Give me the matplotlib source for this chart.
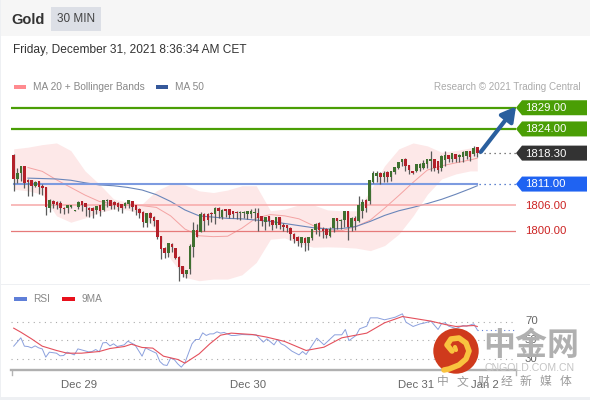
import matplotlib
matplotlib.use('Agg')
import matplotlib.pyplot as plt
from matplotlib.patches import Rectangle, Polygon, Circle
from matplotlib.transforms import blended_transform_factory

plt.rcParams['font.family'] = ['Liberation Sans', 'Noto Sans CJK SC', 'DejaVu Sans']

# 30 minute candles
opens = [1817.7, 1812.2, 1813.6, 1815.1, 1811.8, 1811.8, 1810.6, 1811.6, 1810.4, 1810.2,
         1805.3, 1806.9, 1806.7, 1806.3, 1805.3, 1805.3, 1805.5, 1804.7, 1805.5, 1806.8,
         1806.3, 1805.3, 1805.3, 1804.9, 1805.9, 1804.9, 1806.9, 1807.1, 1806.7, 1806.4,
         1806.1, 1805.9, 1806.4, 1806.8, 1805.9, 1805.1, 1804.3, 1801.9, 1804.1, 1803.1,
         1802.4, 1798.7, 1795.9, 1794.7, 1796.7, 1795.9, 1793.7, 1791.5, 1789.9,
         1791.0, 1796.1, 1800.0, 1799.6, 1803.9, 1803.9, 1804.1, 1803.9, 1805.3, 1803.3,
         1804.9, 1804.9, 1804.5, 1804.4, 1804.2, 1804.1, 1803.9, 1803.9, 1804.2, 1804.1,
         1803.3, 1802.0, 1803.3, 1802.4, 1801.4, 1803.0, 1801.3, 1801.2, 1800.6, 1799.1,
         1798.4, 1797.2, 1798.2, 1797.0, 1798.2, 1800.2, 1801.6, 1800.2, 1800.2, 1798.8,
         1800.6, 1802.8, 1802.2, 1802.5, 1804.6, 1800.8, 1802.8, 1802.2, 1804.7, 1807.1,
         1806.9, 1811.6, 1813.0, 1813.4, 1812.7, 1813.7, 1812.7, 1813.8, 1814.8, 1816.1,
         1816.9, 1815.3, 1814.0, 1814.1, 1814.9, 1814.9, 1815.7, 1816.5, 1816.9, 1816.3,
         1814.8, 1816.7, 1817.7, 1816.9, 1817.9, 1817.3, 1817.4, 1817.7, 1818.6, 1818.1,
         1819.7]
highs = [1818.2, 1814.9, 1815.3, 1815.3, 1812.2, 1811.9, 1811.8, 1811.8, 1811.0, 1810.2,
         1807.5, 1807.2, 1807.1, 1806.9, 1805.5, 1806.1, 1806.1, 1804.8, 1806.9, 1807.1,
         1806.4, 1805.7, 1805.7, 1805.9, 1806.1, 1807.2, 1807.5, 1807.2, 1806.9, 1806.7,
         1806.4, 1806.7, 1807.2, 1807.1, 1805.9, 1805.3, 1804.7, 1804.1, 1804.3, 1803.5,
         1802.5, 1798.8, 1796.1, 1797.0, 1797.0, 1795.9, 1794.1, 1791.7, 1790.7,
         1796.9, 1802.0, 1801.6, 1804.3, 1804.1, 1804.1, 1804.3, 1805.5, 1805.5, 1805.1,
         1805.1, 1804.9, 1804.7, 1804.7, 1804.7, 1804.7, 1804.7, 1805.1, 1805.3, 1805.3,
         1803.5, 1803.3, 1803.5, 1802.5, 1803.3, 1803.1, 1801.7, 1801.3, 1800.8, 1799.4,
         1798.8, 1798.6, 1798.4, 1798.6, 1800.4, 1801.7, 1802.0, 1800.8, 1800.6, 1800.8,
         1803.0, 1803.0, 1802.8, 1804.7, 1804.7, 1803.3, 1803.5, 1808.3, 1807.5, 1807.5,
         1811.9, 1814.0, 1814.1, 1813.8, 1814.1, 1814.1, 1814.1, 1814.9, 1816.3, 1816.9,
         1817.1, 1815.6, 1814.1, 1815.7, 1815.9, 1816.7, 1816.9, 1818.9, 1816.9, 1816.5,
         1817.9, 1818.7, 1817.9, 1818.2, 1818.2, 1818.2, 1818.7, 1818.9, 1818.9, 1819.9,
         1819.8]
lows = [1809.4, 1811.2, 1811.8, 1810.1, 1808.3, 1808.1, 1810.2, 1808.6, 1808.5, 1803.7,
        1804.3, 1805.3, 1805.1, 1804.1, 1803.9, 1804.1, 1805.3, 1804.6, 1805.1, 1804.7,
        1803.5, 1803.3, 1802.9, 1803.9, 1803.5, 1804.7, 1805.7, 1805.1, 1805.1, 1804.7,
        1804.1, 1805.3, 1805.3, 1804.7, 1803.8, 1803.0, 1800.9, 1800.8, 1801.7, 1801.2,
        1798.0, 1793.3, 1793.6, 1793.9, 1794.9, 1793.3, 1788.2, 1789.0, 1788.8,
        1789.8, 1793.9, 1798.6, 1799.6, 1800.0, 1801.4, 1802.0, 1801.6, 1803.0, 1802.8,
        1803.3, 1803.0, 1803.0, 1802.8, 1802.5, 1803.0, 1802.8, 1803.0, 1802.4, 1800.0,
        1801.2, 1800.2, 1801.2, 1800.2, 1800.6, 1800.4, 1800.0, 1799.6, 1797.8, 1797.0,
        1796.5, 1796.1, 1795.3, 1795.4, 1797.8, 1799.2, 1798.8, 1798.3, 1798.3, 1798.6,
        1799.8, 1800.4, 1800.4, 1800.8, 1797.8, 1800.0, 1800.2, 1802.0, 1803.1, 1804.3,
        1806.4, 1811.2, 1811.6, 1811.0, 1811.4, 1811.6, 1811.8, 1813.4, 1814.5, 1815.3,
        1814.1, 1813.4, 1813.4, 1813.8, 1814.1, 1814.5, 1814.9, 1814.1, 1814.1, 1813.5,
        1814.1, 1815.3, 1816.1, 1816.3, 1816.1, 1816.3, 1816.3, 1816.9, 1816.5, 1817.7,
        1817.4]
closes = [1812.2, 1813.6, 1815.1, 1811.2, 1811.4, 1810.6, 1811.4, 1810.4, 1810.1, 1805.7,
          1807.1, 1806.4, 1806.1, 1805.3, 1805.2, 1805.9, 1805.9, 1804.7, 1806.7, 1806.1,
          1805.5, 1804.9, 1804.7, 1805.7, 1804.7, 1807.1, 1807.2, 1805.9, 1806.1, 1805.5,
          1805.3, 1806.4, 1807.1, 1805.7, 1804.9, 1804.1, 1802.0, 1804.1, 1803.0, 1802.2,
          1798.6, 1795.7, 1794.7, 1796.9, 1796.1, 1793.6, 1791.4, 1789.8, 1790.6,
          1796.2, 1800.0, 1798.6, 1803.9, 1802.4, 1802.5, 1803.9, 1805.3, 1804.6, 1804.7,
          1804.6, 1803.8, 1803.9, 1804.1, 1804.3, 1804.4, 1804.5, 1804.5, 1804.3, 1803.0,
          1802.2, 1803.1, 1802.4, 1801.3, 1803.0, 1801.3, 1800.9, 1800.6, 1799.2, 1798.0,
          1797.5, 1798.3, 1797.0, 1798.3, 1800.2, 1801.4, 1800.2, 1800.0, 1799.1, 1800.2,
          1802.8, 1802.4, 1802.5, 1804.5, 1800.8, 1802.8, 1802.2, 1805.9, 1806.7, 1805.3,
          1811.8, 1813.5, 1813.5, 1812.7, 1813.4, 1812.7, 1814.0, 1814.8, 1816.1, 1816.9,
          1815.3, 1814.4, 1813.5, 1815.6, 1815.6, 1815.9, 1816.7, 1816.9, 1814.8, 1814.3,
          1817.6, 1817.7, 1816.9, 1818.1, 1816.9, 1817.7, 1818.4, 1818.6, 1817.3, 1819.5,
          1818.3]

# bollinger bands and moving averages, read every 4 bars
band_bars = list(range(0, 129, 4)) + [130]
band_upper = [1819.3, 1819.7, 1820.3, 1820.7, 1818.9, 1814.1, 1811.0, 1807.5, 1806.7, 1806.3, 1809.4,
              1811.0, 1810.8, 1809.4, 1809.0, 1809.6, 1810.6, 1810.6, 1804.7, 1805.1, 1806.1, 1806.1,
              1804.9, 1804.7, 1804.7, 1809.4, 1815.3, 1819.3, 1820.7, 1820.0, 1818.5, 1818.9, 1819.5, 1819.7]
band_lower = [1809.8, 1809.4, 1808.6, 1803.5, 1802.0, 1803.0, 1804.3, 1805.1, 1804.9, 1803.9, 1800.0,
              1793.3, 1789.0, 1788.2, 1788.6, 1788.6, 1789.6, 1792.5, 1798.0, 1798.3, 1797.0, 1796.1,
              1796.2, 1796.1, 1795.9, 1795.3, 1796.5, 1799.2, 1803.5, 1808.6, 1812.2, 1813.4, 1814.1, 1814.1]
ma_bars = band_bars[1:]
ma20 = [1814.9, 1814.0, 1812.0, 1810.2, 1808.4, 1806.9, 1806.3, 1806.1, 1805.9, 1805.5, 1803.5,
        1800.4, 1798.8, 1798.6, 1798.7, 1800.6, 1803.0, 1803.8, 1803.5, 1802.8, 1801.2, 1800.2,
        1800.0, 1801.0, 1802.5, 1805.3, 1808.3, 1811.4, 1814.3, 1815.3, 1816.0, 1816.7, 1817.1]
ma50 = [1812.4, 1812.3, 1812.2, 1811.9, 1811.3, 1810.8, 1810.6, 1810.2, 1809.6, 1808.5, 1806.9,
        1804.9, 1803.5, 1803.2, 1802.9, 1802.8, 1802.5, 1802.2, 1801.7, 1801.2, 1800.7, 1800.4,
        1800.5, 1801.0, 1802.2, 1803.6, 1804.7, 1805.5, 1806.4, 1807.4, 1808.6, 1809.9, 1810.6]

# RSI panel
rsi_bars = [0, 2, 3, 4, 5, 6, 7, 8, 9, 10, 12, 13, 14, 15, 17, 18, 20, 21, 22, 23, 24, 25, 26, 27, 28, 29,
            31, 32, 34, 35, 36, 37, 38, 40, 41, 42, 43, 44, 45, 46, 47, 48, 50, 51, 52, 53, 54, 55, 56, 57,
            58, 59, 61, 62, 64, 66, 68, 70, 71, 73, 74, 75, 76, 78, 80, 81, 82, 85, 86, 87, 90, 92, 93, 94,
            96, 97, 99, 100, 102, 104, 107, 109, 110, 112, 114, 115, 117, 119, 120, 121, 122, 124, 126, 127,
            129, 130]
rsi_values = [43.7, 52.6, 43.7, 43.3, 41.9, 44.0, 41.9, 40.8, 32.0, 37.3, 36.2, 33.4, 33.7, 37.3, 34.4, 40.8,
              38.7, 37.6, 38.0, 40.1, 37.6, 47.2, 47.6, 44.0, 46.2, 43.3, 45.1, 49.0, 45.1, 39.1, 33.0, 41.9,
              39.8, 36.2, 27.3, 23.8, 23.1, 30.9, 29.5, 24.8, 21.3, 25.9, 46.2, 50.8, 50.8, 57.9, 55.1, 56.8,
              56.8, 59.0, 57.6, 58.3, 55.1, 55.1, 56.1, 55.8, 55.8, 48.0, 51.5, 45.1, 50.8, 46.2, 44.4, 38.4,
              34.4, 38.0, 34.8, 52.2, 48.7, 45.1, 55.8, 55.8, 61.5, 49.6, 55.1, 62.2, 65.0, 73.9, 73.9, 71.8,
              74.6, 78.2, 69.3, 64.7, 67.5, 68.2, 70.4, 61.5, 67.9, 68.6, 65.0, 62.5, 65.7, 65.0, 67.5, 61.1]
rsi_ma_bars = [0, 2, 5, 8, 12, 15, 19, 24, 27, 31, 33, 36, 39, 42, 46, 48, 52, 55, 58, 61, 67, 71, 76, 80,
               82, 87, 92, 99, 104, 109, 117, 121, 124, 129, 130]
rsi_ma = [62.9, 58.6, 51.5, 43.7, 39.1, 36.2, 36.2, 38.0, 41.2, 43.3, 45.8, 42.3, 41.6, 33.0, 29.5, 25.6,
          35.5, 46.2, 55.4, 57.6, 56.1, 53.3, 48.7, 42.3, 39.1, 42.6, 52.6, 57.6, 68.6, 75.3, 70.4, 66.8,
          64.7, 65.7, 64.7]
rsi_levels = [70, 50, 30]

tick_bars = [18.2, 65.6, 112.8, 132]
tick_labels = ['Dec 29', 'Dec 30', 'Dec 31', 'Jan 2']

levels = [1829.00, 1824.00, 1818.30, 1811.00, 1806.00, 1800.00]
level_labels = ['1829.00', '1824.00', '1818.30', '1811.00', '1806.00', '1800.00']
footer_chars = ['中', '文', '财', '经', '新', '媒', '体']

GREEN = '#4a9e05'
BLUE = '#1f63f2'
DARK = '#333333'
RED = '#cc2222'
BAR_STEP = 1.0079  # candles sit a little wider than the line samples

fig = plt.figure(figsize=(5.9, 4.0), dpi=100)

# background layer in pixel coordinates
bg = fig.add_axes([0, 0, 1, 1], zorder=0)
bg.set_xlim(0, 590)
bg.set_ylim(400, 0)
bg.axis('off')
bg.add_patch(Rectangle((0, 0), 590, 36, color='#f6f6f6', lw=0))
bg.add_patch(Rectangle((51, 7), 50, 24, color='#dcdfe6', lw=0))
bg.add_patch(Rectangle((0, 0), 1.2, 400, color='#eef0f3', lw=0))
bg.add_patch(Rectangle((0, 397), 590, 3, color='#eef0f3', lw=0))
bg.add_patch(Rectangle((0, 284), 590, 1, color='#eef0f3', lw=0))
bg.text(11, 19.5, 'Gold', fontsize=10.5, fontweight='bold', color='#333333', va='center')
bg.text(76, 19.5, '30 MIN', fontsize=8.5, color='#444444', va='center', ha='center')
bg.text(13, 49.5, 'Friday, December 31, 2021 8:36:34 AM CET', fontsize=8.6, color='#333333', va='center')
bg.add_patch(Rectangle((14, 84.5), 12, 4, color='#ff8a8f', lw=0))
bg.text(33, 86.5, 'MA 20 + Bollinger Bands', fontsize=7.25, color='#888888', va='center')
bg.add_patch(Rectangle((156, 84.5), 12, 4, color='#35589a', lw=0))
bg.text(175, 86.5, 'MA 50', fontsize=7.25, color='#888888', va='center')
bg.text(581, 86.5, 'Research © 2021 Trading Central', fontsize=7.15, color='#aaaaaa', va='center', ha='right')
bg.add_patch(Rectangle((14, 297), 13, 4, color='#5f7fd8', lw=0))
bg.text(33, 299, 'RSI', fontsize=7.25, color='#888888', va='center')
bg.add_patch(Rectangle((62, 297), 13, 4, color='#e8101c', lw=0))
bg.text(82, 299, '9MA', fontsize=7.25, color='#888888', va='center')


def px_to_bar(px):
    return (px - 13.7) / 3.566


# price panel
ax = fig.add_axes([11 / 590, 1 - 285 / 400, 505 / 590, 190 / 400], zorder=1)
ax.patch.set_alpha(0)
ax.axis('off')
ax.set_xlim(px_to_bar(11), px_to_bar(516))
ax.set_ylim(1800 + (230.7 - 285) / 4.24, 1800 + (230.7 - 95) / 4.24)

ax.fill_between(band_bars, band_lower, band_upper, color='#fde8e8', lw=0, zorder=1)
ax.plot(ma_bars, ma20, color='#f4a3a3', lw=0.7, zorder=2)
ax.plot(ma_bars, ma50, color='#6a86ba', lw=0.8, zorder=2)

ax.axhline(1829, color=GREEN, lw=1.6, zorder=3)
ax.axhline(1824, color=GREEN, lw=1.6, zorder=3)
ax.plot([0, 130], [1811, 1811], color='#7d9be0', lw=1.5, zorder=3)
ax.axhline(1806, color='#f7a8a8', lw=1.1, zorder=3)
ax.axhline(1800, color='#e67a7a', lw=0.9, zorder=3)
ax.plot([130.5, px_to_bar(516)], [1818.3, 1818.3], color='#555555', lw=0.9, ls=(0, (1, 3)), zorder=3)
ax.plot([130.5, px_to_bar(516)], [1811, 1811], color='#2f5fc0', lw=0.9, ls=(0, (1, 3)), zorder=3)

for i in range(len(opens)):
    up = closes[i] >= opens[i]
    ax.vlines(i * BAR_STEP, lows[i], highs[i], color='#5a5a5a', lw=0.9, zorder=4)
    ax.bar(i * BAR_STEP, abs(closes[i] - opens[i]) + 0.12, bottom=min(opens[i], closes[i]), width=0.72,
           color='#3f7030' if up else '#b3202a', lw=0, zorder=5)

# target arrow
ax.annotate('', xy=(px_to_bar(516), 1829.3), xytext=(131, 1818.6), annotation_clip=False, zorder=6,
            arrowprops=dict(arrowstyle='-|>,head_length=0.85,head_width=0.48', color='#2a5f9e', lw=3,
                            shrinkA=0, shrinkB=0))

# price tags, pixels across and prices up
tag_trans = blended_transform_factory(bg.transData, ax.transData)
half = 7.5 / 4.24
for level, label, color in zip(levels[:4], level_labels[:4], [GREEN, GREEN, DARK, BLUE]):
    ax.add_patch(Polygon([(516, level), (522, level + half), (587, level + half),
                          (587, level - half), (522, level - half)],
                         closed=True, color=color, lw=0, transform=tag_trans, clip_on=False, zorder=7))
    ax.text(525, level - 0.1, label, color='white', fontsize=8.2, va='center', transform=tag_trans, zorder=8)
for level, label in zip(levels[4:], level_labels[4:]):
    ax.text(525, level - 0.1, label, color=RED, fontsize=8.2, va='center', transform=tag_trans)

# RSI panel
rsi = fig.add_axes([11 / 590, 1 - 370 / 400, 505 / 590, 65 / 400], zorder=1)
rsi.patch.set_alpha(0)
rsi.set_xlim(px_to_bar(11), px_to_bar(516))
rsi.set_ylim(70 - (370 - 321.5) / 0.9375, 70 - (305 - 321.5) / 0.9375)
for lev in rsi_levels:
    rsi.axhline(lev, color='#aaaaaa', lw=0.8, ls=(0, (1, 4)))
    rsi.text(525, lev, str(lev), fontsize=8.2, color='#666666', va='center',
             transform=blended_transform_factory(bg.transData, rsi.transData))
rsi.plot(rsi_bars, rsi_values, color='#8ba0dd', lw=0.7)
rsi.plot(rsi_ma_bars, rsi_ma, color='#e4505c', lw=0.8)
rsi.plot([130, px_to_bar(516)], [rsi_values[-1], rsi_values[-1]], color='#5f7fd8', lw=0.8, ls=(0, (1, 3)))
for side in ['top', 'right', 'left']:
    rsi.spines[side].set_visible(False)
rsi.spines['bottom'].set_color('#b0b0b0')
rsi.spines['bottom'].set_linewidth(1.7)
rsi.set_yticks([])
rsi.set_xticks(tick_bars)
rsi.set_xticklabels(tick_labels, fontsize=8.2, color='#666666')
rsi.tick_params(axis='x', length=0, pad=7)
bg.plot([11.5, 11.5], [370, 375], color='#b4b4b4', lw=1)
bg.plot([516, 516], [370, 375], color='#b4b4b4', lw=1)

# watermark on top
top = fig.add_axes([0, 0, 1, 1], zorder=5)
top.patch.set_alpha(0)
top.set_xlim(0, 590)
top.set_ylim(400, 0)
top.axis('off')
top.add_patch(Circle((456, 351), 22.7, color='#cf3a1c', lw=0))
top.plot([452, 447, 451, 459, 466, 469, 466, 459, 449, 444], [351, 345, 339, 338, 343, 351, 359, 365, 369, 370],
         color='#f9c33f', lw=4, solid_capstyle='round')
top.plot([456, 455], [350, 347], color='#f9c33f', lw=3, solid_capstyle='round')
top.text(531, 347, '中金网', fontsize=23, fontweight='bold', color='#b0b0b0', ha='center', va='center')
top.text(530, 368, 'CNGOLD.COM.CN', fontsize=7.6, color='#c4c4c4', ha='center', va='center')
for cx, ch in zip([443, 462, 483, 506, 525, 545, 566], footer_chars):
    top.text(cx, 382, ch, fontsize=8.5, color='#9a9a9a', ha='center', va='center')

fig.savefig('out.png', dpi=100, facecolor='white')
